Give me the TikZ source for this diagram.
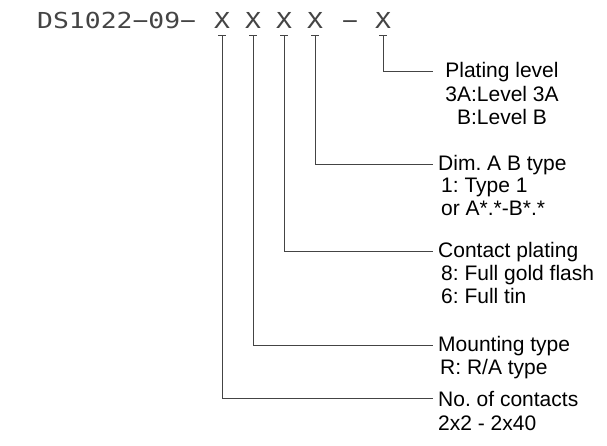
\documentclass[tikz,border=0pt]{standalone}
\usepackage{fontspec}
\setmainfont{Liberation Sans}
\newfontfamily\codefont[FakeStretch=1.2]{DejaVu Sans Mono}
\usetikzlibrary{positioning}
\definecolor{leadgray}{HTML}{444444}
\frenchspacing

\begin{document}
\begin{tikzpicture}[
        x=1pt, y=-1pt,
        node distance=0pt,
        code/.style={
            font=\codefont\fontsize{22}{26}\selectfont,
            text=leadgray,
            inner sep=0pt,
            anchor=base
        },
        head/.style={
            font=\fontsize{21}{24}\selectfont,
            anchor=base west,
            inner sep=0pt
        },
        desc/.style={
            font=\fontsize{21}{23}\selectfont,
            align=left,
            inner sep=0pt
        },
        lead/.style={leadgray, line width=0.9pt}
    ]
        \useasboundingbox (0,0) rectangle (607,445);

        % part number
        \node[code, anchor=base west] (pn) at (37,28) {DS1022−09−};
        \node[code] (x1) at (222,28) {X};
        \node[code] (x2) at (253,28) {X};
        \node[code] (x3) at (284,28) {X};
        \node[code] (x4) at (315,28) {X};
        \node[code] (dash) at (350,28) {−};
        \node[code] (x5) at (383,28) {X};

        % tick under each X
        \foreach \i in {1,...,5} {
            \coordinate (t\i) at (x\i.center |- 0,35);
            \draw[lead] ([xshift=-4pt]t\i) -- ([xshift=4pt]t\i);
        }

        % descriptions
        \node[head, anchor=base] (plate) at (502,77) {Plating level};
        \node[desc, align=center, below=9pt of plate.base] (platetxt)
            {3A:Level 3A\\B:Level B};

        \node[head] (dim) at (438,170) {Dim. A B type};
        \node[desc, below right=8pt and 3pt of dim.base west] (dimtxt)
            {1: Type 1\\or A*.*-B*.*};

        \node[head] (plt) at (438,257) {Contact plating};
        \node[desc, below right=8pt and 3pt of plt.base west] (plttxt)
            {8: Full gold flash\\6: Full tin};

        \node[head] (mnt) at (438,351) {Mounting type};
        \node[desc, below right=8pt and 2pt of mnt.base west] (mnttxt)
            {R: R/A type};

        \node[head] (cnt) at (438,406) {No. of contacts};
        \node[desc, below right=10pt and 0pt of cnt.base west] (cnttxt)
            {2x2 - 2x40};

        % leaders
        \draw[lead] (t5) |- ([xshift=-12pt]plate.west);
        \draw[lead] (t4) |- ([xshift=-5pt]dim.west);
        \draw[lead] (t3) |- ([xshift=-5pt]plt.west);
        \draw[lead] (t2) |- ([xshift=-5pt]mnt.west);
        \draw[lead] (t1) |- ([xshift=-5pt]cnt.west);
    \end{tikzpicture}
\end{document}
